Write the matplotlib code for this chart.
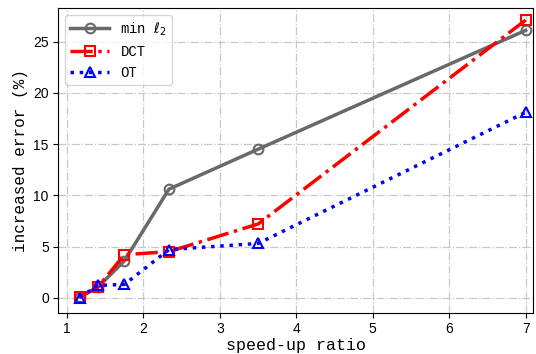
import matplotlib.pyplot as plt

plt.rcParams['font.family'] = ['Liberation Mono', 'DejaVu Sans']
plt.rcParams['mathtext.fontset'] = 'dejavusans'

speedup = [7/6, 7/5, 7/4, 7/3, 7/2, 7/1]
err_l2 = [0.1, 1.0, 3.6, 10.6, 14.5, 26.1]
err_dct = [0.1, 1.0, 4.2, 4.5, 7.2, 27.1]
err_ot = [0.0, 1.2, 1.3, 4.7, 5.3, 18.1]

fig, ax = plt.subplots(figsize=(5.36, 3.54), dpi=100)

ax.plot(speedup, err_l2, color='dimgray', lw=2.5, marker='o', ms=7,
        mfc='none', mew=1.5, label=r'min $\ell_2$')
ax.plot(speedup, err_dct, color='red', lw=2.5, ls='-.', marker='s', ms=7,
        mfc='none', mew=1.5, label='DCT')
ax.plot(speedup, err_ot, color='blue', lw=2.5, ls=':', marker='^', ms=7,
        mfc='none', mew=1.5, label='OT')

ax.set_xlim(0.88, 7.1)
ax.set_ylim(-1.45, 28.3)
ax.set_xticks([1, 2, 3, 4, 5, 6, 7])
ax.set_yticks([0, 5, 10, 15, 20, 25])
ax.tick_params(labelsize=10, pad=3)
for lab in ax.get_xticklabels() + ax.get_yticklabels():
    lab.set_family('Liberation Sans')

ax.grid(True, ls='-.', color='#c8c8c8', lw=0.9)
ax.set_xlabel('speed-up ratio', fontsize=12, labelpad=2)
ax.set_ylabel('increased error (%)', fontsize=11.5, labelpad=4)
ax.legend(loc='upper left', fontsize=10, handlelength=2.8)

plt.subplots_adjust(left=0.108, right=0.995, top=0.978, bottom=0.117)
plt.savefig('out.png')
